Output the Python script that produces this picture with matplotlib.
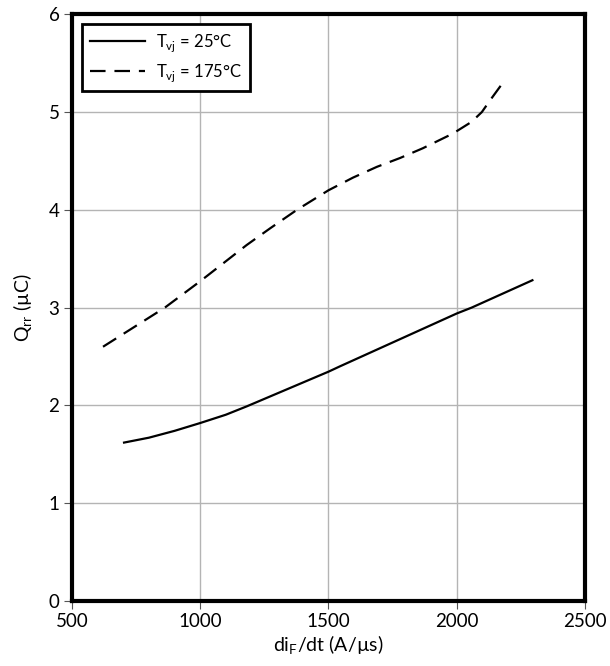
import matplotlib
matplotlib.use("Agg")
import matplotlib.pyplot as plt

plt.rcParams['font.family'] = ['Lato', 'DejaVu Sans']
plt.rcParams['mathtext.fontset'] = 'custom'
plt.rcParams['mathtext.rm'] = 'Lato'

# Tvj = 25 C
di_25 = [703, 800, 900, 1000, 1100, 1181, 1500, 1545, 2000, 2058, 2295]
q_25 = [1.62, 1.67, 1.74, 1.82, 1.905, 1.99, 2.345, 2.40, 2.94, 3.00, 3.28]

# Tvj = 175 C
di_175 = [621, 862, 1000, 1181, 1272, 1377, 1500, 1596, 1689, 1779, 1868, 1985, 2058, 2098, 2130, 2180]
q_175 = [2.60, 3.00, 3.27, 3.64, 3.81, 4.00, 4.20, 4.33, 4.44, 4.53, 4.63, 4.78, 4.90, 5.00, 5.12, 5.30]

fig = plt.figure(figsize=(6.1, 6.66), dpi=100)
ax = fig.add_axes([0.118, 0.0976, 0.841, 0.881])

ax.plot(di_25, q_25, color='black', lw=1.6, label=r'T$_{\mathregular{vj}}$ = 25°C')
ax.plot(di_175, q_175, color='black', lw=1.6, dashes=(7, 4), label=r'T$_{\mathregular{vj}}$ = 175°C')

ax.set_xlim(500, 2500)
ax.set_ylim(0, 6)
ax.set_xticks([500, 1000, 1500, 2000, 2500])
ax.set_yticks([0, 1, 2, 3, 4, 5, 6])
ax.grid(True, color='#b4b4b4', lw=1)
ax.set_axisbelow(True)
for s in ax.spines.values():
    s.set_linewidth(3)
ax.tick_params(direction='out', length=6, width=0.8, color='#555555', labelsize=13.5, pad=3)

ax.set_xlabel(r'di$_{\mathregular{F}}$/dt (A/µs)', fontsize=14, labelpad=2)
ax.set_ylabel(r'Q$_{\mathregular{rr}}$ (µC)', fontsize=14, labelpad=10)

leg = ax.legend(loc='upper left', bbox_to_anchor=(0.02, 0.983), borderaxespad=0, fontsize=12,
                frameon=True, fancybox=False, edgecolor='black', framealpha=1, handlelength=3.3,
                borderpad=0.45, labelspacing=0.5, handletextpad=0.7)
leg.get_frame().set_linewidth(2)

fig.savefig('out.png', dpi=100)
